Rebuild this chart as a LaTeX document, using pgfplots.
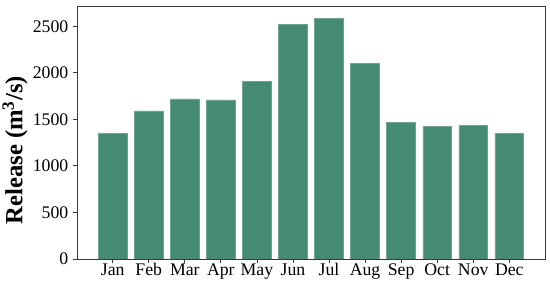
\documentclass[border=0pt]{standalone}
\usepackage{fontspec}
\setmainfont{Liberation Serif}
\usepackage{pgfplots}
\pgfplotsset{compat=1.18}
\definecolor{barc}{HTML}{458B73}
\definecolor{bared}{HTML}{6FA58F}
\definecolor{axc}{HTML}{3A3A3A}
\begin{document}
\begin{tikzpicture}
\begin{axis}[
  at={(0,0)}, anchor=south west,
  scale only axis, width=351pt, height=189.75pt,
  xmin=-0.99, xmax=11.99, ymin=0, ymax=2717,
  xtick={0,...,11},
  xticklabels={Jan,Feb,Mar,Apr,May,Jun,Jul,Aug,Sep,Oct,Nov,Dec},
  ytick={0,500,1000,1500,2000,2500},
  tick align=outside, tick pos=left,
  major tick length=3pt,
  every tick/.style={axc, line width=0.6pt},
  axis line style={axc, line width=0.6pt},
  tick label style={font=\fontsize{13.3}{15}\selectfont, text=black},
  xticklabel style={text height=1.6ex, text depth=0.3ex, inner sep=2pt},
  /pgf/number format/assume math mode=true,
  /pgf/number format/1000 sep={},
  ylabel={\textbf{Release (m\textsuperscript{3}/s)}},
  ylabel style={font=\fontsize{18.5}{20}\selectfont, at={(axis description cs:0,0.43)},
    anchor=center, yshift=46.5pt},
  ybar, bar width=0.8,
]
\addplot[fill=barc, draw=bared, line width=0.4pt] coordinates {
(0,1350) (1,1590) (2,1719) (3,1708) (4,1909) (5,2521)
(6,2585) (7,2102) (8,1468) (9,1421) (10,1432) (11,1346)};
\end{axis}
\pgfresetboundingbox
\path (-57.75pt,-19.5pt) rectangle (354.75pt,194.25pt);
\end{tikzpicture}
\end{document}
